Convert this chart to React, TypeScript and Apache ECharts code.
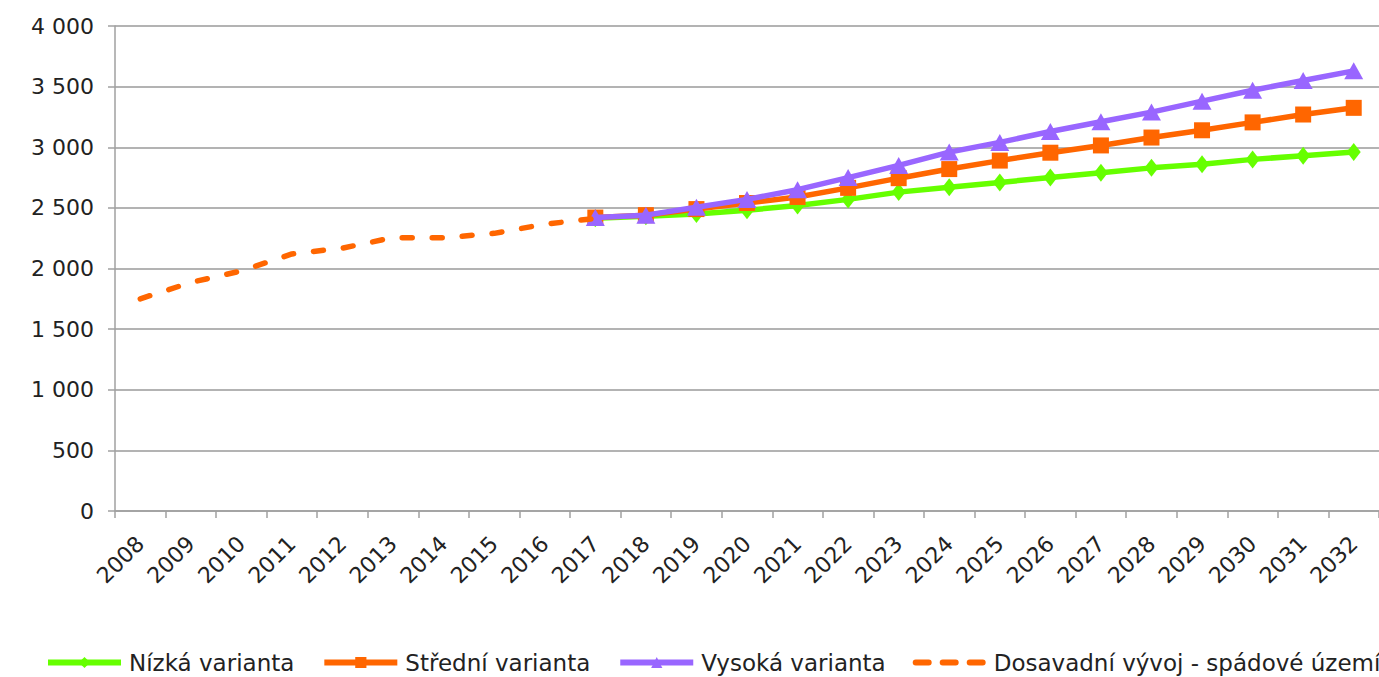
import React, { useEffect, useRef } from "react";
import * as echarts from "echarts";

const years = [
  "2008", "2009", "2010", "2011", "2012", "2013", "2014", "2015", "2016", "2017",
  "2018", "2019", "2020", "2021", "2022", "2023", "2024", "2025", "2026", "2027",
  "2028", "2029", "2030", "2031", "2032",
];

const seriesNames = [
  "Nízká varianta",
  "Střední varianta",
  "Vysoká varianta",
  "Dosavadní vývoj - spádové území",
];

const lowVariant = [
  null, null, null, null, null, null, null, null, null,
  2415, 2430, 2450, 2480, 2520, 2570, 2630, 2670, 2710, 2750, 2790, 2830, 2860, 2900, 2930, 2960,
];

const midVariant = [
  null, null, null, null, null, null, null, null, null,
  2420, 2440, 2490, 2540, 2590, 2665, 2745, 2820, 2890, 2955, 3015, 3080, 3140, 3205, 3270, 3325,
];

const highVariant = [
  null, null, null, null, null, null, null, null, null,
  2420, 2440, 2505, 2570, 2650, 2750, 2850, 2960, 3040, 3130, 3210, 3290, 3380, 3470, 3550, 3630,
];

const history = [
  1750, 1885, 1980, 2120, 2168, 2255, 2253, 2290, 2365, 2413,
  null, null, null, null, null, null, null, null, null, null, null, null, null, null, null,
];

const yTicks = { min: 0, max: 4000, interval: 500 };

const GREEN = "#66ff00";
const ORANGE = "#ff6600";
const PURPLE = "#9966ff";
const FONT = "DejaVu Sans";

const DASH_ICON =
  "path://M3,0 h13 a3,3 0 0 1 0,6 h-13 a3,3 0 0 1 0,-6 z " +
  "M30,0 h13 a3,3 0 0 1 0,6 h-13 a3,3 0 0 1 0,-6 z " +
  "M57,0 h13 a3,3 0 0 1 0,6 h-13 a3,3 0 0 1 0,-6 z";

function fmt(v: number): string {
  if (v >= 1000) {
    return `${Math.floor(v / 1000)} ${String(v % 1000).padStart(3, "0")}`;
  }
  return String(v);
}

export default function App() {
  const ref = useRef<HTMLDivElement>(null);

  useEffect(() => {
    if (!ref.current) return;
    const chart = echarts.init(ref.current, undefined, { renderer: "svg" });
    chart.setOption({
      animation: false,
      backgroundColor: "#ffffff",
      textStyle: { fontFamily: FONT },
      grid: { left: 115, right: 0, top: 26, bottom: 166, containLabel: false },
      legend: {
        left: 45,
        top: 651,
        padding: 0,
        width: 3000,
        itemWidth: 73,
        itemHeight: 14,
        itemGap: 27,
        lineStyle: { width: 6 },
        textStyle: { fontFamily: FONT, fontSize: 23, color: "#222", padding: [0, 0, 0, 3] },
        data: [
          { name: seriesNames[0] },
          { name: seriesNames[1] },
          { name: seriesNames[2] },
          { name: seriesNames[3], icon: DASH_ICON },
        ],
      },
      xAxis: {
        type: "category",
        data: years,
        boundaryGap: true,
        axisLine: { lineStyle: { color: "#a0a0a0", width: 1.5 } },
        axisTick: { show: true, length: 7, lineStyle: { color: "#a0a0a0", width: 1.5 } },
        axisLabel: {
          rotate: 45,
          interval: 0,
          margin: 29,
          fontFamily: FONT,
          fontSize: 22,
          color: "#222",
        },
        splitLine: { show: false },
      },
      yAxis: {
        type: "value",
        min: yTicks.min,
        max: yTicks.max,
        interval: yTicks.interval,
        axisLine: { show: true, lineStyle: { color: "#a0a0a0", width: 1.5 } },
        axisTick: { show: true, length: 7, lineStyle: { color: "#a0a0a0", width: 1.5 } },
        axisLabel: {
          margin: 21,
          fontFamily: FONT,
          fontSize: 22,
          color: "#222",
          formatter: (v: number) => fmt(v),
        },
        splitLine: { show: true, lineStyle: { color: "#9a9a9a", width: 1.5 } },
      },
      series: [
        {
          name: seriesNames[0],
          type: "line",
          data: lowVariant,
          symbol: "diamond",
          symbolSize: [14, 18],
          showAllSymbol: true,
          lineStyle: { color: GREEN, width: 5.5 },
          itemStyle: { color: GREEN },
          z: 2,
        },
        {
          name: seriesNames[1],
          type: "line",
          data: midVariant,
          symbol: "rect",
          symbolSize: 16,
          showAllSymbol: true,
          lineStyle: { color: ORANGE, width: 5.5 },
          itemStyle: { color: ORANGE },
          z: 3,
        },
        {
          name: seriesNames[2],
          type: "line",
          data: highVariant,
          symbol: "triangle",
          symbolSize: [19, 17],
          showAllSymbol: true,
          lineStyle: { color: PURPLE, width: 5.5 },
          itemStyle: { color: PURPLE },
          z: 4,
        },
        {
          name: seriesNames[3],
          type: "line",
          data: history,
          symbol: "none",
          lineStyle: { color: ORANGE, width: 5.5, type: [10, 20], cap: "round" },
          itemStyle: { color: ORANGE },
          z: 5,
        },
      ],
    });
    return () => chart.dispose();
  }, []);

  return (
    <div
      ref={ref}
      style={{ position: "absolute", left: 0, top: 0, width: 1379, height: 677 }}
    />
  );
}
